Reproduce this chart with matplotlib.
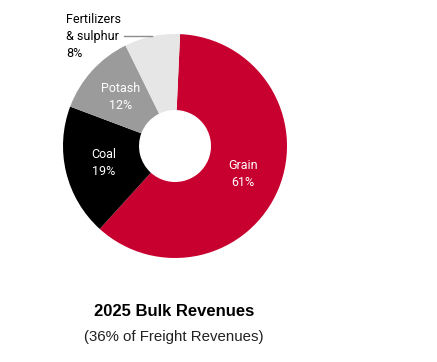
import numpy as np
import matplotlib.pyplot as plt

categories = ["Grain", "Coal", "Potash", "Fertilizers\n& sulphur"]
shares = [61, 19, 12, 8]
colors = ["#C8002F", "#000000", "#9B9B9B", "#E6E6E6"]
label_colors = ["white", "white", "white", "black"]

title = "2025 Bulk Revenues"
subtitle = "(36% of Freight Revenues)"

W, H = 437, 362
fig = plt.figure(figsize=(W / 100, H / 100), dpi=100)
ax = fig.add_axes([0, 0, 1, 1])

cx, cy, R = 175, H - 146, 112
hole = 36 / R

wedges, _ = ax.pie(
    shares,
    colors=colors,
    startangle=87.4,
    counterclock=False,
    center=(cx, cy),
    radius=R,
    wedgeprops=dict(width=R * (1 - hole), edgecolor="none"),
)

ax.set_xlim(0, W)
ax.set_ylim(0, H)
ax.set_aspect("equal")
ax.axis("off")

font = "Roboto"
for w, name, pct, col in zip(wedges, categories, shares, label_colors):
    mid = np.deg2rad((w.theta1 + w.theta2) / 2)
    txt = f"{name}\n{pct}%"
    if pct >= 10:
        r = 0.655 * R
        ax.text(cx + r * np.cos(mid), cy + r * np.sin(mid), txt,
                ha="center", va="center", color=col, fontsize=9,
                family=font, linespacing=1.4)
    else:
        ox, oy = cx + R * np.cos(mid), cy + R * np.sin(mid)
        ax.plot([ox, ox - 28], [oy, oy], color="#8C8C8C", lw=1)
        ax.text(66, oy, txt, ha="left", va="center", color=col,
                fontsize=9, family=font, linespacing=1.4)

fig.text(174 / W, 1 - 312 / H, title, ha="center", va="center",
         fontsize=12, fontweight="bold", family="Liberation Sans")
fig.text(174 / W, 1 - 337 / H, subtitle, ha="center", va="center",
         fontsize=10.8, family="Liberation Sans", color="#222222")

fig.savefig("out.png", dpi=100)
